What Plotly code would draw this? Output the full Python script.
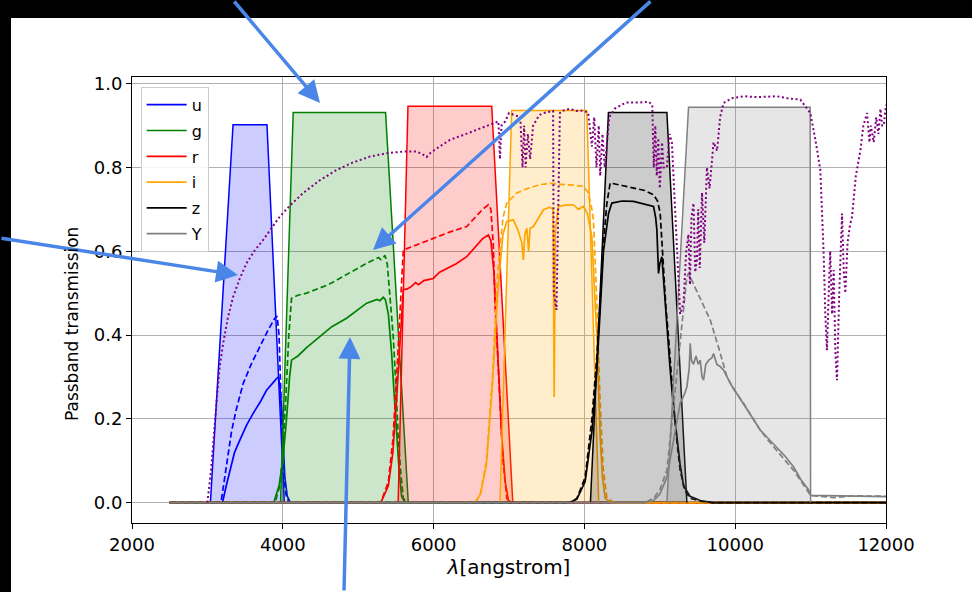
import plotly.graph_objects as go

# ---------------- data ----------------
bands = ["u", "g", "r", "i", "z", "Y"]
band_colors = ["#0000ff", "#008000", "#ff0000", "#ffa500", "#000000", "#808080"]
fill_colors = ["rgba(0,0,255,0.2)", "rgba(0,128,0,0.2)", "rgba(255,0,0,0.2)",
               "rgba(255,165,0,0.2)", "rgba(0,0,0,0.2)", "rgba(128,128,128,0.2)"]

# idealised (top-hat) filter curves
u_filt_wl = [3040, 3340, 3790, 4020]
u_filt_tr = [0.0, 0.902, 0.902, 0.0]
g_filt_wl = [3970, 4138, 5363, 5664]
g_filt_tr = [0.0, 0.931, 0.931, 0.0]
r_filt_wl = [5530, 5660, 6771, 7050]
r_filt_tr = [0.0, 0.946, 0.946, 0.0]
i_filt_wl = [6880, 7036, 8032, 8190]
i_filt_tr = [0.0, 0.936, 0.936, 0.0]
z_filt_wl = [8080, 8319, 9094, 9359]
z_filt_tr = [0.0, 0.931, 0.931, 0.0]
Y_filt_wl = [9094, 9381, 10994, 11000]
Y_filt_tr = [0.0, 0.944, 0.944, 0.0]

# total throughput (solid)
u_tot_wl = [2500, 3200, 3250, 3297, 3360, 3430, 3520, 3607, 3700, 3784, 3860, 3917, 3945, 3965, 3985, 4005, 4027, 4060, 4100, 12000]
u_tot_tr = [0, 0, 0.04, 0.077, 0.12, 0.149, 0.185, 0.213, 0.24, 0.268, 0.285, 0.296, 0.30, 0.27, 0.22, 0.13, 0.06, 0.015, 0, 0]
g_tot_wl = [2500, 3880, 3950, 4000, 4050, 4090, 4116, 4200, 4315, 4492, 4650, 4846, 5000, 5112, 5250, 5290, 5332, 5360, 5400, 5443, 5480, 5510, 5545, 5576, 5620, 12000]
g_tot_tr = [0, 0, 0.04, 0.10, 0.20, 0.30, 0.34, 0.35, 0.37, 0.396, 0.42, 0.44, 0.46, 0.476, 0.485, 0.482, 0.49, 0.485, 0.45, 0.357, 0.25, 0.157, 0.07, 0.015, 0, 0]
r_tot_wl = [2500, 5300, 5400, 5460, 5510, 5560, 5598, 5650, 5700, 5760, 5800, 5870, 5996, 6080, 6200, 6300, 6439, 6500, 6550, 6650, 6726, 6760, 6800, 6837, 6870, 6903, 6950, 6992, 7040, 12000]
r_tot_tr = [0, 0, 0.04, 0.12, 0.25, 0.40, 0.508, 0.51, 0.515, 0.525, 0.52, 0.53, 0.535, 0.55, 0.56, 0.57, 0.587, 0.60, 0.61, 0.63, 0.639, 0.625, 0.55, 0.396, 0.26, 0.157, 0.05, 0.005, 0, 0]
i_tot_wl = [2500, 6550, 6620, 6700, 6780, 6850, 6920, 6970, 7058, 7120, 7170, 7191, 7210, 7236, 7260, 7280, 7324, 7400, 7457, 7540, 7585, 7599, 7615, 7655, 7750, 7854, 7920, 7987, 8040, 8098, 8130, 8165, 8209, 8240, 8275, 8350, 12000]
i_tot_tr = [0, 0, 0.02, 0.09, 0.28, 0.50, 0.64, 0.671, 0.675, 0.65, 0.62, 0.579, 0.64, 0.655, 0.60, 0.655, 0.659, 0.68, 0.699, 0.705, 0.70, 0.252, 0.65, 0.707, 0.71, 0.711, 0.70, 0.707, 0.69, 0.635, 0.52, 0.396, 0.157, 0.06, 0.01, 0, 0]
z_tot_wl = [2500, 7800, 7900, 8010, 8100, 8165, 8253, 8320, 8364, 8500, 8651, 8800, 8917, 8945, 8961, 8983, 9000, 9027, 9060, 9094, 9138, 9180, 9227, 9270, 9315, 9400, 9536, 9700, 12000]
z_tot_tr = [0, 0, 0.008, 0.05, 0.17, 0.316, 0.60, 0.69, 0.715, 0.72, 0.719, 0.712, 0.707, 0.68, 0.651, 0.547, 0.57, 0.587, 0.50, 0.436, 0.316, 0.23, 0.157, 0.09, 0.04, 0.015, 0.005, 0, 0]
Y_tot_wl = [2500, 8800, 8917, 9000, 9094, 9180, 9270, 9330, 9359, 9390, 9403, 9420, 9447, 9480, 9510, 9536, 9560, 9580, 9610, 9650, 9690, 9713, 9740, 9757, 9800, 9846, 9950, 10111, 10220, 10333, 10440, 10554, 10665, 10775, 10870, 10974, 11000, 12000]
Y_tot_tr = [0, 0, 0.005, 0.02, 0.06, 0.15, 0.237, 0.26, 0.276, 0.32, 0.38, 0.34, 0.33, 0.35, 0.33, 0.34, 0.30, 0.292, 0.33, 0.34, 0.345, 0.356, 0.34, 0.33, 0.325, 0.316, 0.28, 0.237, 0.205, 0.173, 0.153, 0.133, 0.11, 0.085, 0.055, 0.03, 0.017, 0.014]

# throughput without atmosphere (dashed)
u_dsh_wl = [2500, 3180, 3230, 3275, 3320, 3380, 3474, 3580, 3695, 3800, 3894, 3925, 3950, 3975, 4005, 4040, 4080, 12000]
u_dsh_tr = [0, 0, 0.06, 0.117, 0.17, 0.22, 0.284, 0.33, 0.372, 0.41, 0.44, 0.445, 0.40, 0.25, 0.08, 0.02, 0, 0]
g_dsh_wl = [2500, 3900, 3960, 4000, 4040, 4080, 4116, 4200, 4315, 4450, 4600, 4713, 4850, 5023, 5120, 5200, 5270, 5300, 5356, 5385, 5420, 5465, 5500, 5531, 5565, 5598, 5650, 12000]
g_dsh_tr = [0, 0, 0.04, 0.12, 0.25, 0.40, 0.488, 0.495, 0.50, 0.51, 0.52, 0.531, 0.545, 0.563, 0.572, 0.579, 0.585, 0.58, 0.59, 0.57, 0.50, 0.396, 0.28, 0.157, 0.07, 0.01, 0, 0]
r_dsh_wl = [2500, 5300, 5400, 5460, 5510, 5550, 5598, 5700, 5800, 5996, 6200, 6439, 6550, 6650, 6726, 6760, 6790, 6815, 6850, 6881, 6920, 6970, 7020, 12000]
r_dsh_tr = [0, 0, 0.05, 0.15, 0.30, 0.45, 0.603, 0.61, 0.617, 0.631, 0.645, 0.659, 0.68, 0.70, 0.711, 0.70, 0.62, 0.476, 0.35, 0.237, 0.10, 0.01, 0, 0]
i_dsh_wl = [2500, 6550, 6620, 6700, 6780, 6850, 6920, 6970, 7103, 7250, 7412, 7550, 7722, 7850, 7987, 8050, 8100, 8120, 8165, 8209, 8250, 8298, 8400, 12000]
i_dsh_tr = [0, 0, 0.02, 0.10, 0.30, 0.55, 0.68, 0.715, 0.739, 0.75, 0.759, 0.762, 0.759, 0.758, 0.755, 0.74, 0.70, 0.675, 0.476, 0.237, 0.08, 0.01, 0, 0]
z_dsh_wl = [2500, 7800, 7900, 8010, 8100, 8165, 8209, 8253, 8298, 8342, 8500, 8651, 8800, 8917, 8970, 9005, 9030, 9049, 9080, 9115, 9150, 9182, 9230, 9270, 9330, 9403, 9550, 9700, 12000]
z_dsh_tr = [0, 0, 0.01, 0.06, 0.20, 0.35, 0.476, 0.62, 0.715, 0.763, 0.757, 0.751, 0.745, 0.735, 0.72, 0.691, 0.62, 0.555, 0.47, 0.396, 0.31, 0.237, 0.14, 0.077, 0.03, 0.01, 0.003, 0, 0]
Y_dsh_wl = [2500, 8800, 8917, 9000, 9094, 9160, 9227, 9300, 9359, 9381, 9450, 9550, 9669, 9780, 9890, 10000, 10111, 10220, 10333, 10440, 10554, 10665, 10775, 10870, 10952, 11000, 11300, 11600, 12000]
Y_dsh_tr = [0, 0, 0.01, 0.03, 0.077, 0.19, 0.316, 0.44, 0.539, 0.547, 0.52, 0.48, 0.436, 0.37, 0.30, 0.265, 0.237, 0.205, 0.173, 0.148, 0.125, 0.10, 0.077, 0.05, 0.03, 0.017, 0.012, 0.016, 0.015]

# atmospheric transmission (dotted)
atm_wl = [3000, 3050, 3120, 3160, 3209, 3270, 3341, 3430, 3518, 3620, 3739, 3850, 3961, 4100, 4270, 4480, 4713, 4930, 5156, 5380, 5598, 5775, 5850, 5908, 5960, 6080, 6218, 6400, 6572, 6793, 6860, 6880, 6900, 6950, 7000, 7150, 7180, 7200, 7220, 7250, 7280, 7320, 7400, 7457, 7585, 7594, 7630, 7675, 7700, 7800, 7900, 7987, 8050, 8100, 8130, 8160, 8190, 8210, 8240, 8270, 8300, 8330, 8400, 8550, 8739, 8850, 8900, 8920, 8940, 8960, 8980, 9000, 9030, 9050, 9094, 9130, 9160, 9200, 9240, 9270, 9315, 9350, 9380, 9400, 9420, 9447, 9470, 9492, 9510, 9530, 9560, 9590, 9625, 9660, 9713, 9760, 9800, 9846, 9950, 10111, 10300, 10554, 10700, 10864, 10996, 11060, 11129, 11150, 11173, 11195, 11217, 11240, 11260, 11285, 11306, 11330, 11350, 11380, 11400, 11417, 11440, 11461, 11490, 11520, 11550, 11600, 11660, 11700, 11749, 11780, 11800, 11837, 11870, 11900, 11926, 11950, 11970, 12000]
atm_tr = [0.0, 0.08, 0.237, 0.32, 0.38, 0.44, 0.491, 0.535, 0.571, 0.60, 0.627, 0.656, 0.683, 0.71, 0.739, 0.768, 0.794, 0.812, 0.826, 0.834, 0.838, 0.838, 0.832, 0.825, 0.835, 0.85, 0.866, 0.878, 0.89, 0.906, 0.91, 0.82, 0.90, 0.91, 0.93, 0.92, 0.80, 0.90, 0.80, 0.88, 0.82, 0.90, 0.925, 0.93, 0.935, 0.50, 0.46, 0.93, 0.935, 0.94, 0.935, 0.936, 0.93, 0.85, 0.92, 0.80, 0.90, 0.78, 0.88, 0.80, 0.87, 0.92, 0.94, 0.955, 0.955, 0.957, 0.95, 0.80, 0.90, 0.78, 0.87, 0.75, 0.86, 0.80, 0.80, 0.88, 0.86, 0.70, 0.55, 0.45, 0.476, 0.60, 0.64, 0.52, 0.68, 0.715, 0.55, 0.58, 0.70, 0.56, 0.74, 0.62, 0.80, 0.75, 0.86, 0.84, 0.92, 0.954, 0.965, 0.97, 0.968, 0.97, 0.965, 0.962, 0.93, 0.87, 0.794, 0.70, 0.595, 0.45, 0.364, 0.50, 0.60, 0.45, 0.555, 0.35, 0.292, 0.50, 0.62, 0.69, 0.55, 0.50, 0.62, 0.66, 0.683, 0.78, 0.84, 0.90, 0.93, 0.86, 0.90, 0.86, 0.92, 0.88, 0.94, 0.90, 0.90, 0.95]

x_ticks = [2000, 4000, 6000, 8000, 10000, 12000]
y_ticks = [0.0, 0.2, 0.4, 0.6, 0.8, 1.0]
x_title = "<i>λ</i>[angstrom]"
y_title = "Passband transmission"

filt = [(u_filt_wl, u_filt_tr), (g_filt_wl, g_filt_tr), (r_filt_wl, r_filt_tr),
        (i_filt_wl, i_filt_tr), (z_filt_wl, z_filt_tr), (Y_filt_wl, Y_filt_tr)]
tot = [(u_tot_wl, u_tot_tr), (g_tot_wl, g_tot_tr), (r_tot_wl, r_tot_tr),
       (i_tot_wl, i_tot_tr), (z_tot_wl, z_tot_tr), (Y_tot_wl, Y_tot_tr)]
dsh = [(u_dsh_wl, u_dsh_tr), (g_dsh_wl, g_dsh_tr), (r_dsh_wl, r_dsh_tr),
       (i_dsh_wl, i_dsh_tr), (z_dsh_wl, z_dsh_tr), (Y_dsh_wl, Y_dsh_tr)]

# ---------------- figure ----------------
fig = go.Figure()
for k, b in enumerate(bands):
    fx, fy = filt[k]
    fig.add_trace(go.Scatter(x=fx, y=fy, mode="lines", fill="tozeroy",
                             fillcolor=fill_colors[k],
                             line=dict(color=band_colors[k], width=1.5),
                             legendgroup=b, showlegend=False, hoverinfo="skip"))
    tx, ty = tot[k]
    fig.add_trace(go.Scatter(x=tx, y=ty, mode="lines", name=b,
                             line=dict(color=band_colors[k], width=1.7),
                             legendgroup=b, showlegend=True))
    dx, dy = dsh[k]
    fig.add_trace(go.Scatter(x=dx, y=dy, mode="lines",
                             line=dict(color=band_colors[k], width=1.7, dash="6px,3px"),
                             legendgroup=b, showlegend=False))

fig.add_trace(go.Scatter(x=atm_wl, y=atm_tr, mode="lines",
                         line=dict(color="#800080", width=2, dash="2px,2.6px"),
                         showlegend=False))

# plot-area geometry (pixels)
L, R, T, B = 132, 86, 77, 69
W, H = 972, 592
pw, ph = W - L - R, H - T - B


def px2paper(px, py):
    return (px - L) / pw, (H - B - py) / ph


shapes = []
x0, y1 = px2paper(11, 18)
x1, y0 = px2paper(W + 5, H + 5)
shapes.append(dict(type="rect", xref="paper", yref="paper", x0=x0, x1=x1, y0=y0, y1=y1,
                   fillcolor="white", line=dict(width=0), layer="below"))

arrows = [((320, 103), (233, -4)), ((373, 250), (652, -4)),
          ((238, 275), (-4, 238)), ((350, 337), (344, 596))]
annotations = []
for (hx, hy), (tx_, ty_) in arrows:
    ax_, ay_ = px2paper(hx, hy)
    annotations.append(dict(xref="paper", yref="paper", x=ax_, y=ay_, text="",
                            showarrow=True, arrowhead=2, arrowsize=1.25, arrowwidth=3.5,
                            arrowcolor="#4a86e8", ax=tx_ - hx, ay=ty_ - hy, standoff=0))

yt_x, yt_y = px2paper(72, 324)
annotations.append(dict(xref="paper", yref="paper", x=yt_x, y=yt_y,
                        xanchor="center", yanchor="middle",
                        text=y_title, textangle=-90, showarrow=False,
                        font=dict(family="DejaVu Sans", size=17, color="#000000")))

fig.update_layout(
    width=W, height=H,
    margin=dict(l=L, r=R, t=T, b=B, pad=0),
    paper_bgcolor="black", plot_bgcolor="white",
    font=dict(family="DejaVu Sans", size=18, color="#000000"),
    shapes=shapes, annotations=annotations,
    showlegend=True,
    legend=dict(x=0.0115, y=0.978, xanchor="left", yanchor="top",
                bgcolor="rgba(255,255,255,0.85)", bordercolor="#cccccc", borderwidth=1,
                font=dict(family="DejaVu Sans", size=16, color="#000000"),
                traceorder="grouped", tracegroupgap=2, itemwidth=40),
)
fig.update_xaxes(range=[2000, 12000], tickvals=x_ticks, ticktext=[str(v) for v in x_ticks],
                 showgrid=True, gridcolor="#b0b0b0", gridwidth=0.8,
                 showline=True, linecolor="#000000", linewidth=1, mirror=True,
                 ticks="outside", ticklen=5, tickcolor="#000000",
                 tickfont=dict(size=18), zeroline=False,
                 title=dict(text=x_title, font=dict(size=20), standoff=6))
fig.update_yaxes(range=[-0.0488, 1.016], tickvals=y_ticks, ticktext=["%.1f" % v for v in y_ticks],
                 showgrid=True, gridcolor="#b0b0b0", gridwidth=0.8,
                 showline=True, linecolor="#000000", linewidth=1, mirror=True,
                 ticks="outside", ticklen=5, tickcolor="#000000",
                 tickfont=dict(size=18), zeroline=False)

fig.write_html("out.html", config={"displayModeBar": False},
               post_script="document.body.style.margin='0';document.body.style.background='black';")
